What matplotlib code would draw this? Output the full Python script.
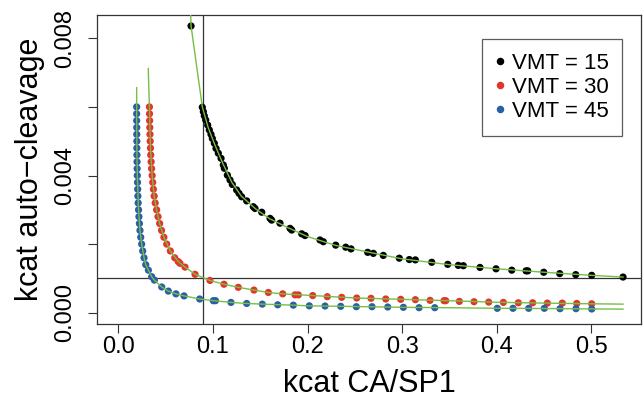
import matplotlib
matplotlib.use("Agg")
import matplotlib.pyplot as plt
from matplotlib.lines import Line2D

plt.rcParams['font.family'] = ['Liberation Sans', 'DejaVu Sans']

# ---------------- data ----------------
x_black = [0.0769, 0.0888, 0.0899, 0.0909, 0.0924, 0.0945, 0.0962, 0.0980, 0.0994, 0.1015,
           0.1033, 0.1057, 0.1086, 0.1110, 0.1121, 0.1153, 0.1181, 0.1205, 0.1251, 0.1276,
           0.1304, 0.1357, 0.1427, 0.1445, 0.1516, 0.1604, 0.1621, 0.1709, 0.1815, 0.1833,
           0.1939, 0.1974, 0.2132, 0.2167, 0.2298, 0.2404, 0.2460, 0.2636, 0.2696, 0.2801,
           0.2970, 0.3076, 0.3140, 0.3313, 0.3482, 0.3594, 0.3647, 0.3823, 0.3993, 0.4159,
           0.4310, 0.4328, 0.4497, 0.4666, 0.4835, 0.5004, 0.5335]
y_black = [0.00836, 0.00599, 0.00586, 0.00574, 0.00562, 0.00547, 0.00533, 0.00520, 0.00508, 0.00494,
           0.00479, 0.00465, 0.00450, 0.00431, 0.00421, 0.00401, 0.00387, 0.00374, 0.00358, 0.00348,
           0.00338, 0.00326, 0.00309, 0.00304, 0.00293, 0.00275, 0.00270, 0.00261, 0.00246, 0.00241,
           0.00230, 0.00225, 0.00212, 0.00207, 0.00197, 0.00191, 0.00186, 0.00176, 0.00173, 0.00167,
           0.00159, 0.00155, 0.00154, 0.00147, 0.00141, 0.00138, 0.00137, 0.00132, 0.00128, 0.00124,
           0.00122, 0.00122, 0.00118, 0.00114, 0.00111, 0.00109, 0.00104]

x_red = [0.0329, 0.0330, 0.0331, 0.0333, 0.0335, 0.0337, 0.0340, 0.0343, 0.0347, 0.0352,
         0.0358, 0.0364, 0.0371, 0.0379, 0.0390, 0.0405, 0.0420, 0.0437, 0.0457, 0.0482,
         0.0512, 0.0550, 0.0597, 0.0634, 0.0652, 0.0705, 0.0811, 0.0969, 0.1117, 0.1268,
         0.1434, 0.1586, 0.1738, 0.1868, 0.1903, 0.2055, 0.2209, 0.2361, 0.2520, 0.2671,
         0.2827, 0.2985, 0.3140, 0.3295, 0.3443, 0.3461, 0.3605, 0.3760, 0.3915, 0.4070,
         0.4228, 0.4380, 0.4535, 0.4693, 0.4846, 0.5004]
y_red = [0.0060, 0.0058, 0.0056, 0.0054, 0.0052, 0.0050, 0.0048, 0.0046, 0.0044, 0.0042,
         0.0040, 0.0038, 0.0036, 0.0034, 0.0032, 0.0030, 0.0028, 0.0026, 0.0024, 0.0022,
         0.0020, 0.0018, 0.0016, 0.00149, 0.00144, 0.00133, 0.00112, 0.00094, 0.00083, 0.00074,
         0.00066, 0.00059, 0.00055, 0.00052, 0.00052, 0.00050, 0.000467, 0.000448, 0.000428, 0.00042,
         0.00040, 0.00039, 0.00038, 0.00036, 0.00035, 0.00035, 0.00033, 0.00032, 0.00031, 0.00030,
         0.00029, 0.00029, 0.00028, 0.00028, 0.00027, 0.00026]

x_blue = [0.0194, 0.0194, 0.0194, 0.0195, 0.0195, 0.0196, 0.0196, 0.0197, 0.0198, 0.0199,
          0.0201, 0.0203, 0.0205, 0.0207, 0.0210, 0.0214, 0.0218, 0.0223, 0.0229, 0.0237,
          0.0247, 0.0258, 0.0272, 0.0290, 0.0318, 0.0353, 0.0381, 0.0459, 0.0529, 0.0609,
          0.0695, 0.0860, 0.1004, 0.1027, 0.1191, 0.1357, 0.1522, 0.1685, 0.1850, 0.2019,
          0.2185, 0.2351, 0.2516, 0.2682, 0.2848, 0.3013, 0.3179, 0.3345, 0.4006, 0.4172,
          0.4338, 0.4503, 0.4669, 0.4838, 0.5004]
y_blue = [0.0060, 0.0058, 0.0056, 0.0054, 0.0052, 0.0050, 0.0048, 0.0046, 0.0044, 0.0042,
          0.0040, 0.0038, 0.0036, 0.0034, 0.0032, 0.0030, 0.0028, 0.0026, 0.0024, 0.0022,
          0.0020, 0.0018, 0.0016, 0.0014, 0.00124, 0.00105, 0.00095, 0.00075, 0.00063, 0.00055,
          0.00049, 0.00040, 0.00035, 0.00035, 0.00030, 0.00027, 0.00025, 0.00023, 0.00022, 0.00020,
          0.000195, 0.000186, 0.000175, 0.000175, 0.000166, 0.000157, 0.000146, 0.000146, 0.000128, 0.000128,
          0.000128, 0.000128, 0.000117, 0.000117, 0.000108]

# fitted (green) curves
fit_x_black = [0.0762, 0.0769, 0.0829, 0.0888, 0.0950, 0.1020, 0.1100, 0.1200, 0.1300, 0.1450,
               0.1600, 0.1800, 0.2000, 0.2300, 0.2600, 0.3000, 0.3500, 0.4000, 0.4500, 0.5000, 0.5335]
fit_y_black = [0.00900, 0.00836, 0.00717, 0.00600, 0.00540, 0.00490, 0.00438, 0.00380, 0.00340, 0.00303,
               0.00274, 0.00247, 0.00222, 0.00196, 0.00179, 0.00157, 0.00140, 0.00128, 0.00118, 0.00109, 0.00104]
fit_x_red = [0.0317, 0.0322, 0.0329, 0.0340, 0.0358, 0.0379, 0.0405, 0.0437, 0.0482, 0.0550,
             0.0634, 0.0705, 0.0811, 0.0969, 0.1117, 0.1268, 0.1434, 0.1586, 0.1738, 0.2055,
             0.2500, 0.3000, 0.3500, 0.4000, 0.4500, 0.5000, 0.5335]
fit_y_red = [0.00712, 0.00660, 0.00600, 0.00480, 0.00400, 0.00340, 0.00300, 0.00260, 0.00220, 0.00180,
             0.00149, 0.00133, 0.00112, 0.00094, 0.00083, 0.00074, 0.00066, 0.00059, 0.00055, 0.00050,
             0.00043, 0.00039, 0.00035, 0.000305, 0.00028, 0.00026, 0.00025]
fit_x_blue = [0.0194, 0.0194, 0.0196, 0.0201, 0.0214, 0.0229, 0.0247, 0.0272, 0.0290, 0.0318,
              0.0353, 0.0381, 0.0459, 0.0529, 0.0609, 0.0695, 0.0860, 0.1010, 0.1191, 0.1357,
              0.1522, 0.1850, 0.2019, 0.2500, 0.3000, 0.3500, 0.4000, 0.4500, 0.5000, 0.5335]
fit_y_blue = [0.00656, 0.00600, 0.00480, 0.00400, 0.00300, 0.00240, 0.00200, 0.00160, 0.00140, 0.00124,
              0.00105, 0.00095, 0.00075, 0.00063, 0.00055, 0.00049, 0.00040, 0.00035, 0.00030, 0.00027,
              0.00025, 0.00022, 0.00020, 0.000180, 0.000158, 0.000145, 0.000130, 0.000122, 0.000110, 0.000105]

labels = ["VMT = 15", "VMT = 30", "VMT = 45"]
colors = ["#000000", "#e5352b", "#2b5ea7"]
vline_x = 0.09
hline_y = 0.001
x_ticks = [0.0, 0.1, 0.2, 0.3, 0.4, 0.5]
y_ticks = [0.000, 0.002, 0.004, 0.006, 0.008]
y_ticklabels = ["0.000", "", "0.004", "", "0.008"]

# ---------------- figure ----------------
W, H = 643, 404
fig = plt.figure(figsize=(W / 100, H / 100), dpi=100)
ax_l, ax_r, ax_t, ax_b = 97.3, 641.0, 15.0, 324.3
ax = fig.add_axes([ax_l / W, 1 - ax_b / H, (ax_r - ax_l) / W, (ax_b - ax_t) / H])

ax.axvline(vline_x, color="#333333", lw=0.9, zorder=1)
ax.axhline(hline_y, color="#333333", lw=0.9, zorder=1)

series = [(x_black, y_black), (x_red, y_red), (x_blue, y_blue)]
fits = [(fit_x_black, fit_y_black), (fit_x_red, fit_y_red), (fit_x_blue, fit_y_blue)]
for (xs, ys), c in zip(series, colors):
    ax.scatter(xs, ys, s=27, color=c, edgecolors="none", zorder=3)
for fx, fy in fits:
    ax.plot(fx, fy, color="#74c045", lw=1.0, zorder=4)

ax.set_xlim(-0.0222, 0.5525)
ax.set_ylim(-0.000338, 0.00868)
ax.set_xticks(x_ticks)
ax.set_xticklabels([f"{v:.1f}" for v in x_ticks])
ax.set_yticks(y_ticks)
ax.set_yticklabels(y_ticklabels, rotation=90, va="center")

for sp in ax.spines.values():
    sp.set_linewidth(0.9)
    sp.set_color("#333333")
ax.tick_params(axis="both", direction="out", length=6.5, width=0.8, color="#333333", labelsize=17)
ax.tick_params(axis="x", pad=2)
ax.tick_params(axis="y", pad=9)

ax.set_xlabel("kcat CA/SP1", fontsize=22, labelpad=8)
ax.set_ylabel("kcat auto\u2212cleavage", fontsize=22, labelpad=6)

handles = [Line2D([], [], marker="o", linestyle="none", color=c, markersize=4.4) for c in colors]
leg = ax.legend(handles, labels, loc="upper right", bbox_to_anchor=(0.9656, 0.9224),
                borderaxespad=0, fontsize=16, frameon=True, fancybox=False,
                edgecolor="#333333", handlelength=0.35, handletextpad=0.35,
                labelspacing=0.14, borderpad=0.62)
leg.get_frame().set_linewidth(0.9)

fig.savefig("out.png", dpi=100)
